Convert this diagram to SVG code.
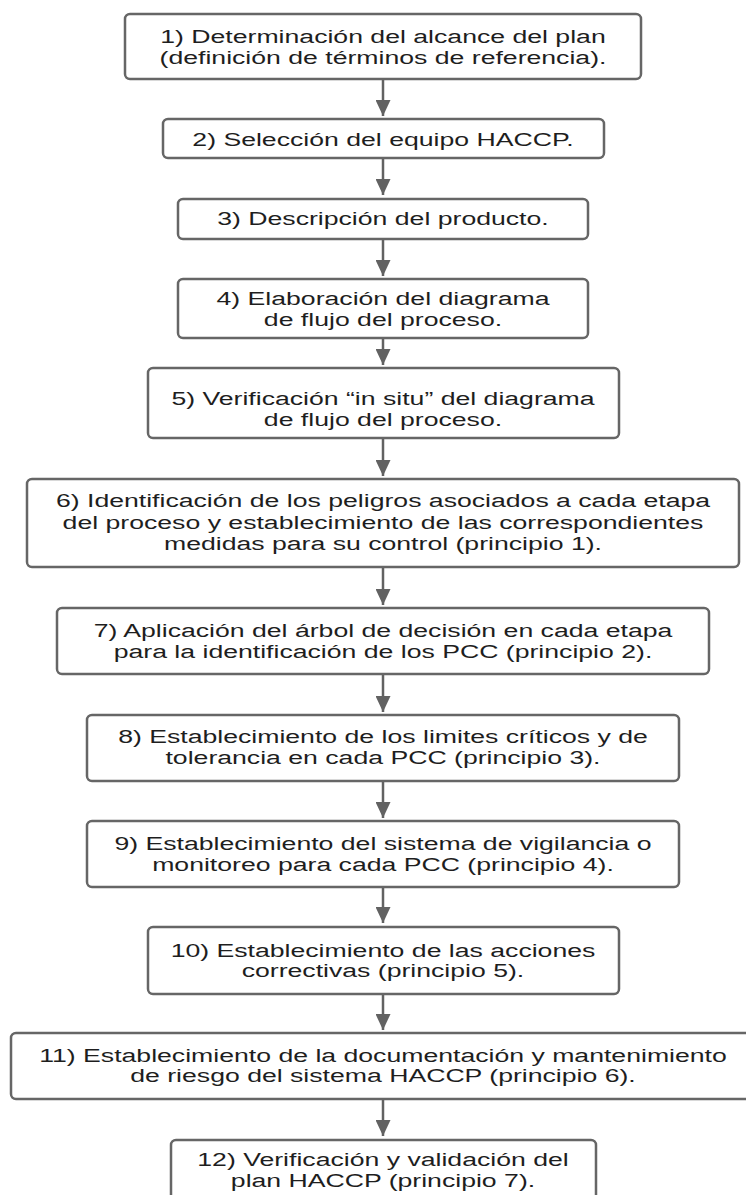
<svg xmlns="http://www.w3.org/2000/svg" width="746" height="1195" viewBox="0 0 746 1195">
<style>
.box{fill:#ffffff;stroke:#666666;stroke-width:2.5}
.lbl{font-family:"Liberation Sans",Arial,sans-serif;font-size:18px;fill:#1e1e1e;text-anchor:middle}
.con{stroke:#626262;stroke-width:2.5;fill:none}
</style>
<defs>
<marker id="ah" viewBox="0 0 16 15" refX="16" refY="7.5" markerWidth="16" markerHeight="15" markerUnits="userSpaceOnUse" orient="auto">
<path d="M0,0 L16,7.5 L0,15 z" fill="#626262"/>
</marker>
</defs>
<rect width="746" height="1195" fill="#ffffff"/>
<g id="connectors">
<path class="con" d="M383,79 V116" marker-end="url(#ah)"/>
<path class="con" d="M383,158 V195" marker-end="url(#ah)"/>
<path class="con" d="M383,239 V276" marker-end="url(#ah)"/>
<path class="con" d="M383,338 V365" marker-end="url(#ah)"/>
<path class="con" d="M383,438 V476" marker-end="url(#ah)"/>
<path class="con" d="M383,567 V605" marker-end="url(#ah)"/>
<path class="con" d="M383,674 V712" marker-end="url(#ah)"/>
<path class="con" d="M383,781 V818" marker-end="url(#ah)"/>
<path class="con" d="M383,887 V923" marker-end="url(#ah)"/>
<path class="con" d="M383,994 V1030" marker-end="url(#ah)"/>
<path class="con" d="M383,1099 V1136" marker-end="url(#ah)"/>
</g>
<g id="n1"><rect class="box" x="125" y="14" width="516" height="65" rx="5"/>
<g transform="matrix(1.48,0,0,1,-183.84,0)"><text class="lbl" x="383" y="43">1) Determinación del alcance del plan</text><text class="lbl" x="383" y="64">(definición de términos de referencia).</text></g></g>
<g id="n2"><rect class="box" x="163" y="119" width="441" height="39" rx="5"/>
<g transform="matrix(1.48,0,0,1,-183.84,0)"><text class="lbl" x="383" y="146">2) Selección del equipo HACCP.</text></g></g>
<g id="n3"><rect class="box" x="178" y="199" width="410" height="40" rx="5"/>
<g transform="matrix(1.48,0,0,1,-183.84,0)"><text class="lbl" x="383" y="225">3) Descripción del producto.</text></g></g>
<g id="n4"><rect class="box" x="178" y="279" width="410" height="59" rx="5"/>
<g transform="matrix(1.48,0,0,1,-183.84,0)"><text class="lbl" x="383" y="305">4) Elaboración del diagrama</text><text class="lbl" x="383" y="326">de flujo del proceso.</text></g></g>
<g id="n5"><rect class="box" x="148" y="368" width="471" height="70" rx="5"/>
<g transform="matrix(1.48,0,0,1,-183.84,0)"><text class="lbl" x="383" y="405">5) Verificación “in situ” del diagrama</text><text class="lbl" x="383" y="426">de flujo del proceso.</text></g></g>
<g id="n6"><rect class="box" x="27" y="479" width="712" height="88" rx="5"/>
<g transform="matrix(1.48,0,0,1,-183.84,0)"><text class="lbl" x="383" y="507">6) Identificación de los peligros asociados a cada etapa</text><text class="lbl" x="383" y="529">del proceso y establecimiento de las correspondientes</text><text class="lbl" x="383" y="550">medidas para su control (principio 1).</text></g></g>
<g id="n7"><rect class="box" x="57" y="608" width="652" height="66" rx="5"/>
<g transform="matrix(1.48,0,0,1,-183.84,0)"><text class="lbl" x="383" y="637">7) Aplicación del árbol de decisión en cada etapa</text><text class="lbl" x="383" y="658">para la identificación de los PCC (principio 2).</text></g></g>
<g id="n8"><rect class="box" x="87" y="715" width="592" height="66" rx="5"/>
<g transform="matrix(1.48,0,0,1,-183.84,0)"><text class="lbl" x="383" y="743">8) Establecimiento de los limites críticos y de</text><text class="lbl" x="383" y="764">tolerancia en cada PCC (principio 3).</text></g></g>
<g id="n9"><rect class="box" x="87" y="821" width="592" height="66" rx="5"/>
<g transform="matrix(1.48,0,0,1,-183.84,0)"><text class="lbl" x="383" y="850">9) Establecimiento del sistema de vigilancia o</text><text class="lbl" x="383" y="871">monitoreo para cada PCC (principio 4).</text></g></g>
<g id="n10"><rect class="box" x="148" y="927" width="471" height="67" rx="5"/>
<g transform="matrix(1.48,0,0,1,-183.84,0)"><text class="lbl" x="383" y="957">10) Establecimiento de las acciones</text><text class="lbl" x="383" y="977">correctivas (principio 5).</text></g></g>
<g id="n11"><rect class="box" x="11" y="1033" width="744" height="66" rx="5"/>
<g transform="matrix(1.48,0,0,1,-183.84,0)"><text class="lbl" x="383" y="1062">11) Establecimiento de la documentación y mantenimiento</text><text class="lbl" x="383" y="1082">de riesgo del sistema HACCP (principio 6).</text></g></g>
<g id="n12"><rect class="box" x="171" y="1140" width="425" height="70" rx="5"/>
<g transform="matrix(1.48,0,0,1,-183.84,0)"><text class="lbl" x="383" y="1166">12) Verificación y validación del</text><text class="lbl" x="383" y="1187">plan HACCP (principio 7).</text></g></g>
</svg>
